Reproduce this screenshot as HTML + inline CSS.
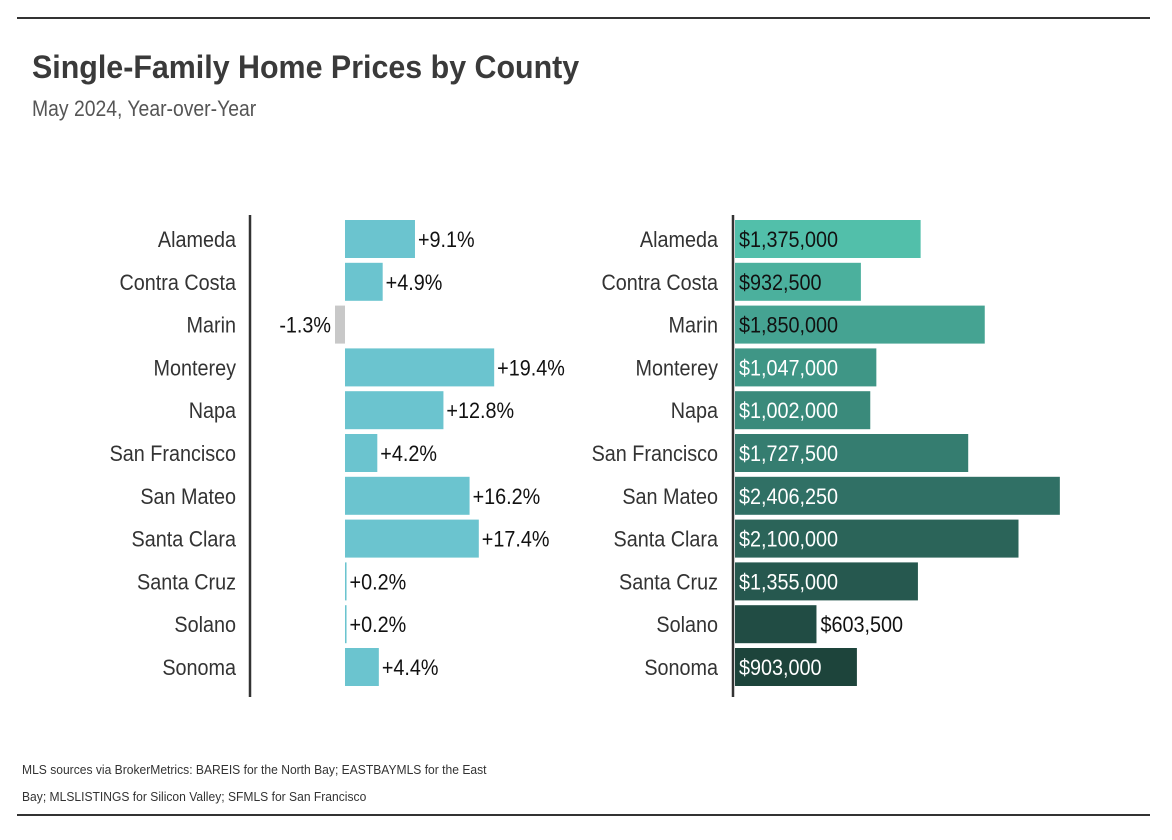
<!DOCTYPE html>
<html><head><meta charset="utf-8"><style>
body{margin:0;background:#fff;}
svg{display:block;font-family:"Liberation Sans",sans-serif;}
</style></head><body>
<svg id="c" width="1172" height="840">
<line x1="17" y1="18" x2="1150" y2="18" stroke="#333" stroke-width="2"/>
<text transform="translate(32,78) scale(0.95,1)" font-size="32" font-weight="bold" fill="#3a3a3a">Single-Family Home Prices by County</text>
<text transform="translate(32,116) scale(0.88,1)" font-size="22" fill="#555">May 2024, Year-over-Year</text>
<line x1="250" y1="215" x2="250" y2="697" stroke="#333" stroke-width="2.5"/>
<line x1="733" y1="215" x2="733" y2="697" stroke="#333" stroke-width="2.5"/>
<g id="g"></g>
<text transform="translate(22,774) scale(0.93,1)" font-size="13" fill="#333">MLS sources via BrokerMetrics: BAREIS for the North Bay; EASTBAYMLS for the East</text>
<text transform="translate(22,801) scale(0.93,1)" font-size="13" fill="#333">Bay; MLSLISTINGS for Silicon Valley; SFMLS for San Francisco</text>
<line x1="17" y1="815" x2="1150" y2="815" stroke="#333" stroke-width="2"/>
</svg>
<script>
const counties=["Alameda","Contra Costa","Marin","Monterey","Napa","San Francisco","San Mateo","Santa Clara","Santa Cruz","Solano","Sonoma"];
const changes=[9.1,4.9,-1.3,19.4,12.8,4.2,16.2,17.4,0.2,0.2,4.4];
const prices=[1375000,932500,1850000,1047000,1002000,1727500,2406250,2100000,1355000,603500,903000];
const priceColors=["#52bfaa","#4bb09d","#45a392","#3f9686","#3a8a7b","#357d70","#307065","#2b6459","#26584f","#214c44","#1d443b"];
const NS="http://www.w3.org/2000/svg";
const g=document.getElementById("g");
const SX=0.9;
const yC=i=>239+i*42.8;
const xPct=v=>345+v*7.69;
const xPrice=v=>735+v/1e6*135;
function mk(t,a,txt){const e=document.createElementNS(NS,t);for(const k in a)e.setAttribute(k,a[k]);if(txt!=null)e.textContent=txt;g.appendChild(e);return e;}
function tx(x,y,txt,anchor,fill){return mk("text",{transform:`translate(${x},${y}) scale(${SX},1)`,"font-size":22,fill:fill,"text-anchor":anchor},txt);}
counties.forEach((c,i)=>{
  const y=yC(i)+8,h=38;
  let e=tx(236,y,c,"end","#333");
  
  
  e=tx(718,y,c,"end","#333");
  
  
  const v=changes[i],x0=Math.min(xPct(0),xPct(v)),w=Math.max(Math.abs(xPct(v)-xPct(0)),1.5);
  e=mk("rect",{x:x0,y:yC(i)-h/2,width:w,height:h,fill:v<0?"#c8c8c8":"#6bc4cf"});
  
  
  const lbl=(v>=0?"+":"")+v.toFixed(1)+"%";
  e=tx(v<0?x0-4:xPct(v)+3,y,lbl,v<0?"end":"start","#111");
  
  
  const p=prices[i],pw=xPrice(p)-735;
  e=mk("rect",{x:735,y:yC(i)-h/2,width:pw,height:h,fill:priceColors[i]});
  
  
  const ps="$"+p.toLocaleString("en-US");
  const inside=pw>110;
  e=tx(inside?739:xPrice(p)+4,y,ps,"start",inside&&i>2?"#fff":"#111");
  
  
});
</script>
</body></html>
